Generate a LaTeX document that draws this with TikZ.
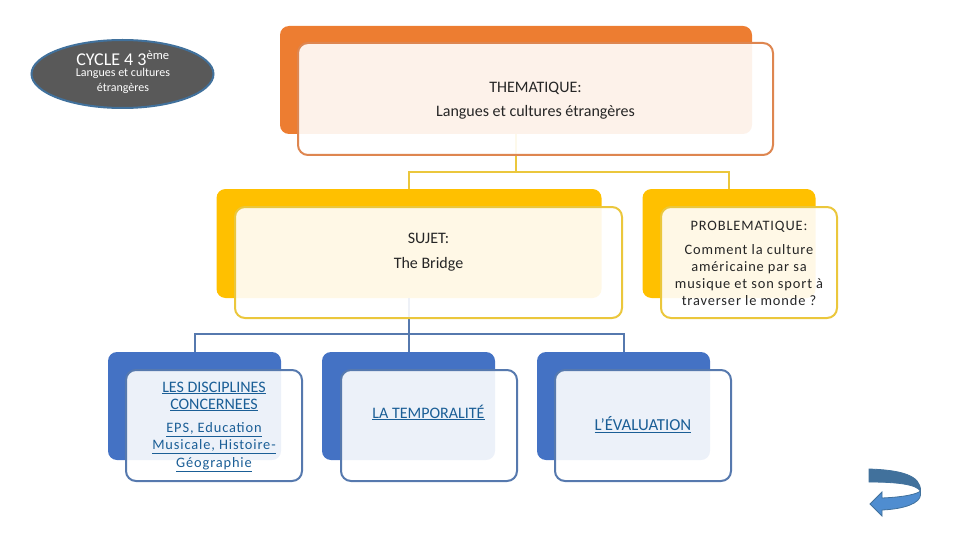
\documentclass[tikz,border=0pt]{standalone}
\usepackage{fontspec}
\setmainfont{Carlito}
\newfontfamily\widefont[LetterSpace=6]{Carlito}
\usepackage{xcolor}
\usetikzlibrary{shapes.geometric}
\definecolor{orangeback}{HTML}{ED7D31}
\definecolor{orangeline}{HTML}{DE8650}
\definecolor{yellowback}{HTML}{FFC000}
\definecolor{yellowline}{HTML}{EBC73C}
\definecolor{blueback}{HTML}{4472C4}
\definecolor{blueline}{HTML}{5679AE}
\definecolor{linkblue}{HTML}{1A5E96}
\definecolor{arrowdark}{HTML}{41719C}
\definecolor{arrowlight}{HTML}{4F8DD0}
\tikzset{
  backbox/.style={rounded corners=9pt, inner sep=0pt, draw=none},
  frontbox/.style={rounded corners=10pt, inner sep=0pt, fill=white, fill opacity=0.9, line width=2pt},
  boxtext/.style={align=center, inner sep=0pt, text=black!85, font=\fontsize{16}{20}\selectfont},
  linktext/.style={align=center, inner sep=0pt, text=linkblue, font=\fontsize{16}{17}\selectfont},
  widetext/.style={font=\fontsize{14.4}{17.3}\selectfont\widefont},
  treeline/.style={line width=2pt}
}
\begin{document}
\begin{tikzpicture}[x=1pt, y=-1pt]
    \useasboundingbox (0,0) rectangle (960,540);
    % --- Back boxes ---
    \node[backbox, fill=orangeback, minimum width=472pt, minimum height=108pt] (them) at (516,80) {};
    \node[backbox, fill=yellowback, minimum width=385pt, minimum height=109pt] (sujet) at (409,243.5) {};
    \node[backbox, fill=yellowback, minimum width=173pt, minimum height=109pt] (prob) at (729,243.5) {};
    \node[backbox, fill=blueback, minimum width=173pt, minimum height=108pt] (disc) at (194.5,406) {};
    \node[backbox, fill=blueback, minimum width=173pt, minimum height=108pt] (temp) at (408.5,406) {};
    \node[backbox, fill=blueback, minimum width=173pt, minimum height=108pt] (eval) at (623.5,406) {};
    % --- Tree lines ---
    \coordinate (jthem) at (516,172);
    \coordinate (jsujet) at (409,334);
    \draw[treeline, yellowline] (them.south) -- (jthem);
    \draw[treeline, yellowline] (sujet.north) |- (jthem);
    \draw[treeline, yellowline] (prob.north) |- (jthem);
    \draw[treeline, blueline] (sujet.south) -- (jsujet);
    \draw[treeline, blueline] (disc.north) |- (jsujet);
    \draw[treeline, blueline] (temp.north) |- (jsujet);
    \draw[treeline, blueline] (eval.north) |- (jsujet);
    % --- Front boxes ---
    \node[frontbox, draw=orangeline, minimum width=475pt, minimum height=112pt] (themf) at (535.5,99) {};
    \node[frontbox, draw=yellowline, minimum width=387pt, minimum height=111pt] (sujetf) at (428.5,262.5) {};
    \node[frontbox, draw=yellowline, minimum width=176pt, minimum height=111pt] (probf) at (749,262.5) {};
    \node[frontbox, draw=blueline, minimum width=176pt, minimum height=111pt] (discf) at (214,425.5) {};
    \node[frontbox, draw=blueline, minimum width=176pt, minimum height=111pt] (tempf) at (429,425.5) {};
    \node[frontbox, draw=blueline, minimum width=176pt, minimum height=111pt] (evalf) at (643,425.5) {};
    % --- Box texts ---
    \node[boxtext] (themt) at (535.5,100.5) {THEMATIQUE:\\[4pt]Langues et cultures étrangères};
    \node[boxtext] (sujett) at (428.5,252.5) {SUJET:\\[5pt]The Bridge};
    \node[boxtext, widetext] (probt) at (749,263.5)
      {PROBLEMATIQUE:\\[6.5pt]Comment la culture\\américaine par sa\\musique et son sport à\\traverser le monde ?};
    \node[linktext] (disct) at (214,396.5) {\underline{LES DISCIPLINES}\\\underline{CONCERNEES}};
    \node[linktext, widetext] (disct2) at (214,447)
      {\underline{EPS, Education}\\\underline{Musicale, Histoire-}\\\underline{Géographie}};
    \node[linktext] (tempt) at (428.5,412.5) {\underline{LA TEMPORALITÉ}};
    \node[linktext, font=\fontsize{16.8}{17}\selectfont] (evalt) at (643,425) {\underline{L’ÉVALUATION}};
    % --- Cycle ellipse ---
    \node[ellipse, draw=arrowdark, line width=2pt, fill=black!65, minimum width=182pt, minimum height=68pt, inner sep=0pt] (cycle) at (122.5,74) {};
    \node[align=center, inner sep=0pt, text=white, font=\fontsize{18}{18}\selectfont] (cyclet) at (123,58.5) {CYCLE 4 3\textsuperscript{ème}};
    \node[align=center, inner sep=0pt, text=white, font=\fontsize{12}{15}\selectfont] (cyclet2) at (123,80.5) {Langues et cultures\\étrangères};
    % --- Return arrow ---
    \draw[draw=arrowdark, fill=arrowlight, line width=0.8pt]
      (870,504) -- (882,492) -- (882,498) .. controls (905,497) and (917,494) .. (920.5,491)
      -- (920.5,495) .. controls (920,503) and (905,509) .. (882,510) -- (882,516) -- cycle;
    \draw[draw=arrowdark, fill=arrowdark, line width=0.8pt]
      (869,469) .. controls (900,470) and (921,475) .. (920.5,491)
      .. controls (916,484) and (895,482) .. (869,482) -- cycle;
\end{tikzpicture}
\end{document}
